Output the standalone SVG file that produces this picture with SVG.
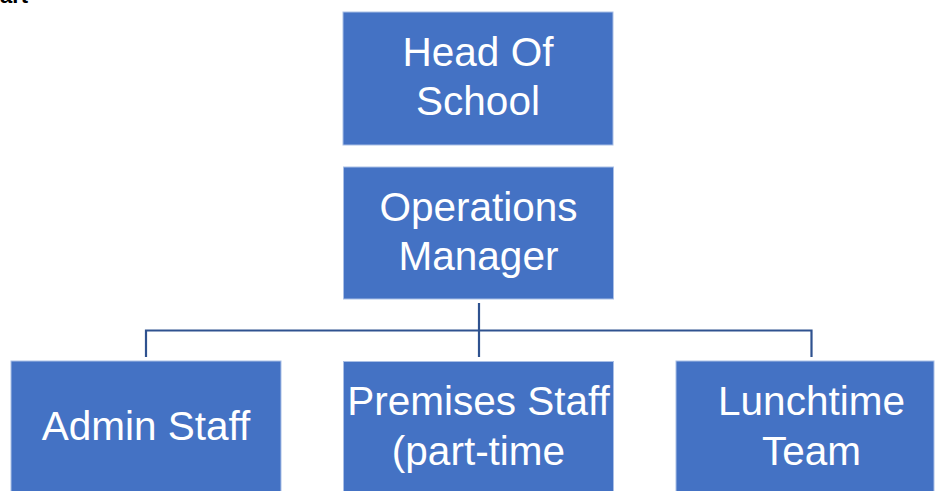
<svg xmlns="http://www.w3.org/2000/svg" width="935" height="491" viewBox="0 0 935 491">
<style>
.box{fill:#4472C4;stroke:#A9BFE6;stroke-width:1}
.lbl{fill:#FFFFFF;font-family:"Liberation Sans","Open Sans",Arial,sans-serif;font-size:40.5px;text-anchor:middle}
.conn{fill:none;stroke:#2F528F;stroke-width:2.2}
.frag{fill:#000000;font-family:"Liberation Sans",Arial,sans-serif;font-size:22px;font-weight:bold}
</style>
<rect width="935" height="491" fill="#FFFFFF"/>
<text class="frag" x="0" y="2.5">art</text>
<g id="connectors">
<path class="conn" d="M479 303 V357"/>
<path class="conn" d="M146 357 V330.5 H811.5 V357"/>
</g>
<g id="head">
<rect class="box" x="343" y="12" width="270" height="133"/>
<text class="lbl" x="478" y="66">Head Of</text>
<text class="lbl" x="478" y="115">School</text>
</g>
<g id="ops">
<rect class="box" x="343.5" y="167" width="270" height="132"/>
<text class="lbl" x="478.5" y="221">Operations</text>
<text class="lbl" x="478.5" y="270">Manager</text>
</g>
<g id="admin">
<rect class="box" x="11" y="361" width="270" height="135"/>
<text class="lbl" x="146" y="440">Admin Staff</text>
</g>
<g id="premises">
<rect class="box" x="343.5" y="361.5" width="270" height="135"/>
<text class="lbl" x="478.5" y="415">Premises Staff</text>
<text class="lbl" x="478.5" y="465">(part-time</text>
</g>
<g id="lunch">
<rect class="box" x="676" y="361" width="258" height="135"/>
<text class="lbl" x="811.5" y="415">Lunchtime</text>
<text class="lbl" x="811.5" y="465">Team</text>
</g>
</svg>
